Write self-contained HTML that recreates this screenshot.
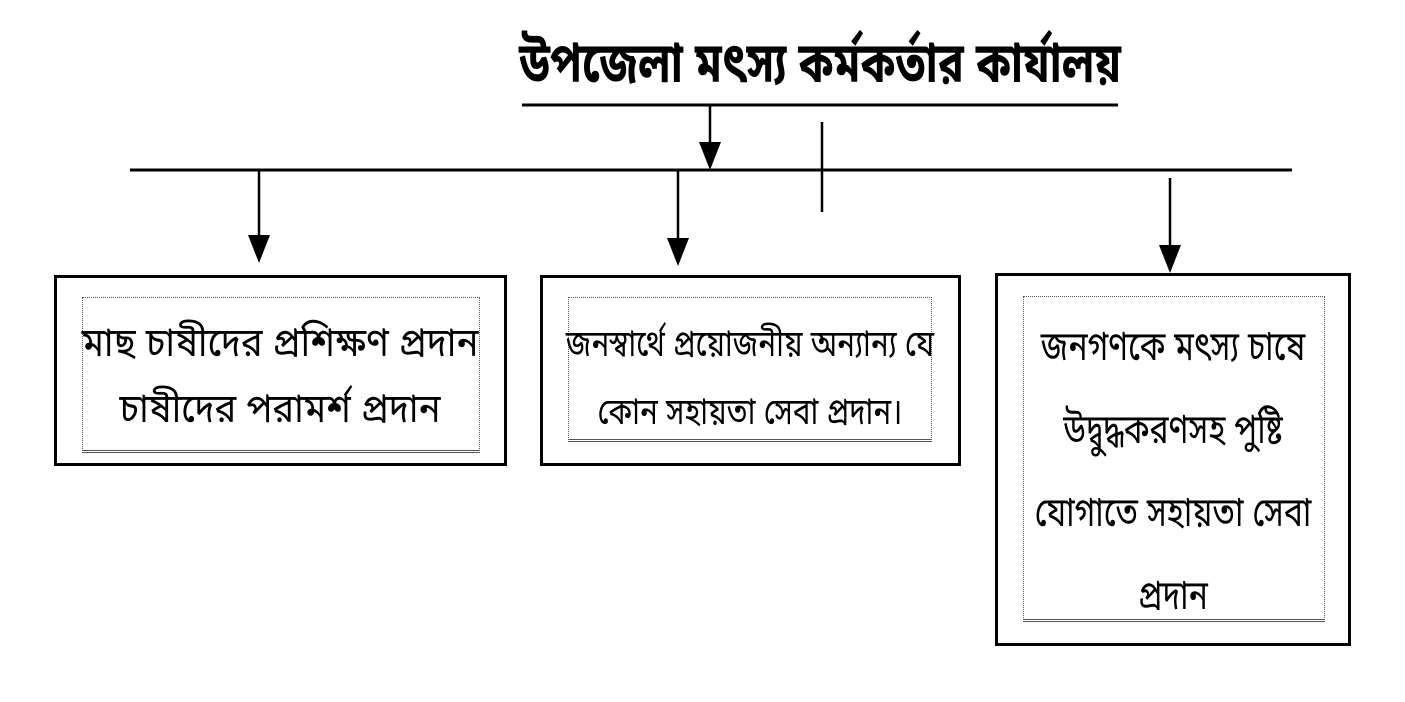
<!DOCTYPE html>
<html><head><meta charset="utf-8">
<style>
html,body{margin:0;padding:0;background:#fff;}
body{width:1405px;height:702px;position:relative;overflow:hidden;font-family:"Liberation Sans","Noto Sans Bengali","Lohit Bengali","FreeSerif",sans-serif;color:#000;}
.t{position:absolute;white-space:nowrap;text-align:center;transform-origin:50% 0;}
.box{position:absolute;border:3px solid #000;box-sizing:border-box;}
.in{position:absolute;border:1px dotted #555;box-sizing:border-box;}
</style></head><body>
<svg width="1405" height="702" style="position:absolute;left:0;top:0">
<line x1="522" y1="105" x2="1118" y2="105" stroke="#000" stroke-width="3"/>
<line x1="710" y1="105" x2="710" y2="150" stroke="#000" stroke-width="2.5"/>
<polygon points="699,142 721,142 710,170" fill="#000"/>
<line x1="822" y1="122" x2="822" y2="212" stroke="#000" stroke-width="2.5"/>
<line x1="130" y1="170" x2="1292" y2="170" stroke="#000" stroke-width="3"/>
<line x1="259" y1="170" x2="259" y2="240" stroke="#000" stroke-width="2.5"/>
<polygon points="248,235 270,235 259,263" fill="#000"/>
<line x1="678" y1="170" x2="678" y2="243" stroke="#000" stroke-width="2.5"/>
<polygon points="667,238 689,238 678,266" fill="#000"/>
<line x1="1170" y1="178" x2="1170" y2="250" stroke="#000" stroke-width="2.5"/>
<polygon points="1159,245 1181,245 1170,273" fill="#000"/>
</svg>
<div class="t" style="left:420px;top:30px;width:800px;font-size:56px;font-weight:bold;transform:scaleX(0.77);">উপজেলা মৎস্য কর্মকর্তার কার্যালয়</div>

<div class="box" style="left:54px;top:275px;width:453px;height:191px;"></div>
<div class="in" style="left:82px;top:297px;width:398px;height:156px;border-bottom:3px double #555;"></div>
<div class="t" style="left:30px;top:310px;width:500px;font-size:40px;line-height:66px;transform:scaleX(0.91);">মাছ চাষীদের প্রশিক্ষণ প্রদান<br>চাষীদের পরামর্শ প্রদান</div>

<div class="box" style="left:540px;top:275px;width:421px;height:191px;"></div>
<div class="in" style="left:568px;top:297px;width:364px;height:145px;border-bottom:3px double #555;"></div>
<div class="t" style="left:500px;top:310px;width:500px;font-size:37px;line-height:68px;transform:scaleX(0.8);">জনস্বার্থে  প্রয়োজনীয়  অন্যান্য  যে<br>কোন  সহায়তা  সেবা  প্রদান।</div>

<div class="box" style="left:995px;top:273px;width:356px;height:373px;"></div>
<div class="in" style="left:1023px;top:296px;width:302px;height:326px;border-bottom:3px double #555;"></div>
<div class="t" style="left:973px;top:305px;width:400px;font-size:41px;line-height:83px;transform:scaleX(0.78);">জনগণকে মৎস্য চাষে<br>উদ্বুদ্ধকরণসহ পুষ্টি<br>যোগাতে সহায়তা সেবা<br>প্রদান</div>
</body></html>
